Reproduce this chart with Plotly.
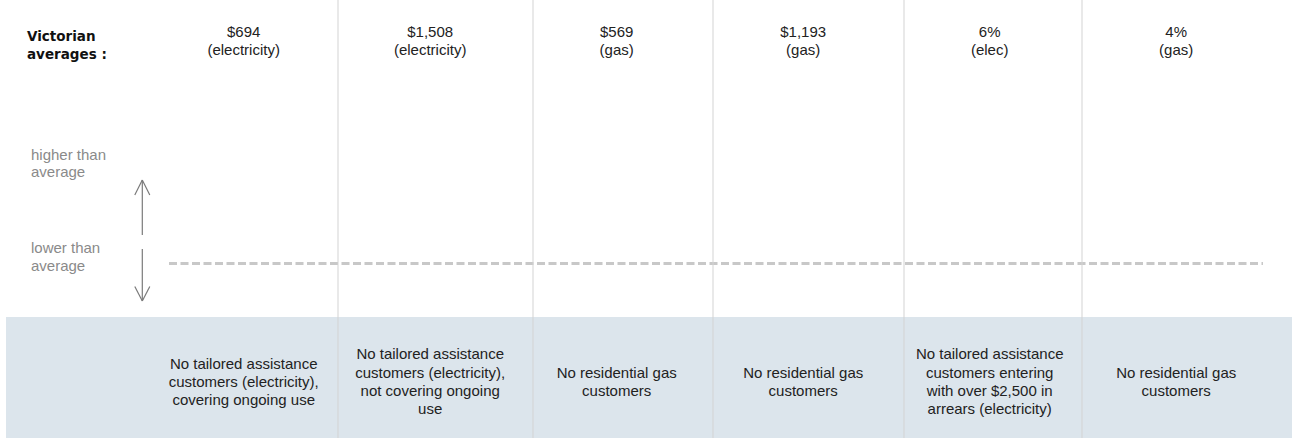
import plotly.graph_objects as go

# ---------------- data ----------------
categories = [0, 1, 2, 3, 4, 5]
avg_values = ["$694", "$1,508", "$569", "$1,193", "6%", "4%"]
avg_units = ["(electricity)", "(electricity)", "(gas)", "(gas)", "(elec)", "(gas)"]
column_notes = [
    "No tailored assistance<br>customers (electricity),<br>covering ongoing use",
    "No tailored assistance<br>customers (electricity),<br>not covering ongoing<br>use",
    "No residential gas<br>customers",
    "No residential gas<br>customers",
    "No tailored assistance<br>customers entering<br>with over $2,500 in<br>arrears (electricity)",
    "No residential gas<br>customers",
]
row_title = "Victorian<br>averages :"
higher_label = "higher than<br>average"
lower_label = "lower than<br>average"

# ---------------- layout helpers (pixel -> axis units) ----------------
W, H = 1292, 438
X0, S = 243.7, 186.5
SEPARATOR_PX = [338, 533, 713, 904, 1082]   # column boundaries (layout)


def dx(px):
    return (px - X0) / S


FONT = "Liberation Sans, Arial, sans-serif"
TEXT_C = "#222222"
GREY_T = "#8a8a8a"
SEP_C = "#d3d3d3"
BAND_C = "#dce5ec"
ARROW_C = "#7a7a7a"

fig = go.Figure()

# band behind the notes
shapes = [dict(type="rect", xref="x", yref="y", x0=dx(6), x1=dx(W + 2), y0=317, y1=H + 2,
               fillcolor=BAND_C, line=dict(width=0), layer="below")]

# column separators
for px in SEPARATOR_PX:
    shapes.append(dict(type="line", xref="x", yref="y", x0=dx(px), x1=dx(px), y0=0, y1=H,
                       line=dict(color=SEP_C, width=1), layer="above"))

# arrows
ax = 142.3
arrow_lines = [
    (ax, 180, ax, 235), (ax, 180, ax - 7.5, 195), (ax, 180, ax + 7.5, 195),
    (ax, 249, ax, 301), (ax, 301, ax - 7.5, 286.5), (ax, 301, ax + 7.5, 286.5),
]
for x0, y0, x1, y1 in arrow_lines:
    shapes.append(dict(type="line", xref="x", yref="y", x0=dx(x0), x1=dx(x1), y0=y0, y1=y1,
                       line=dict(color=ARROW_C, width=1.2)))

# average (dashed) reference line
fig.add_trace(go.Scatter(x=[dx(169), dx(1263)], y=[263.5, 263.5], mode="lines",
                         line=dict(color="#c8c8c8", width=3, dash="8px,3.5px"),
                         hoverinfo="skip", showlegend=False))


def multiline(xs, labels, yc, step):
    ox, oy, ot = [], [], []
    for x, lab in zip(xs, labels):
        lines = lab.split("<br>")
        n = len(lines)
        for i, ln in enumerate(lines):
            ox.append(x)
            oy.append(yc + (i - (n - 1) / 2) * step)
            ot.append(ln)
    return ox, oy, ot


# header values
hx, hy, ht = multiline(categories, [v + "<br>" + u for v, u in zip(avg_values, avg_units)], 42, 18)
fig.add_trace(go.Scatter(x=hx, y=hy, text=ht, mode="text", textposition="middle center",
                         textfont=dict(family=FONT, size=15, color=TEXT_C),
                         hoverinfo="skip", showlegend=False))

# bottom notes
bx, by, bt = multiline(categories, column_notes, 383, 18.2)
fig.add_trace(go.Scatter(x=bx, y=by, text=bt, mode="text", textposition="middle center",
                         textfont=dict(family=FONT, size=15, color=TEXT_C),
                         hoverinfo="skip", showlegend=False))

# left side labels
gx, gy, gt = multiline([dx(31)], [higher_label], 164.5, 17.5)
lx, ly, lt = multiline([dx(31)], [lower_label], 258, 18)
fig.add_trace(go.Scatter(x=gx + lx, y=gy + ly, text=gt + lt, mode="text", textposition="middle right",
                         textfont=dict(family=FONT, size=15, color=GREY_T),
                         hoverinfo="skip", showlegend=False))

tx, ty, tt = multiline([dx(27)], [row_title], 46.5, 18)
fig.add_trace(go.Scatter(x=tx, y=ty, text=tt, mode="text", textposition="middle right",
                         textfont=dict(family="DejaVu Sans, Verdana, sans-serif", size=13.5,
                                       color="#111111", weight="bold"),
                         hoverinfo="skip", showlegend=False))

fig.update_layout(
    width=W, height=H,
    margin=dict(l=0, r=0, t=0, b=0),
    paper_bgcolor="white", plot_bgcolor="white",
    shapes=shapes,
    xaxis=dict(range=[dx(0), dx(W)], visible=False, showgrid=False, zeroline=False, fixedrange=True),
    yaxis=dict(range=[H, 0], visible=False, showgrid=False, zeroline=False, fixedrange=True),
    showlegend=False,
)

fig.write_html("out.html", config={"displayModeBar": False},
               post_script="document.body.style.margin='0';document.body.style.overflow='hidden';")
